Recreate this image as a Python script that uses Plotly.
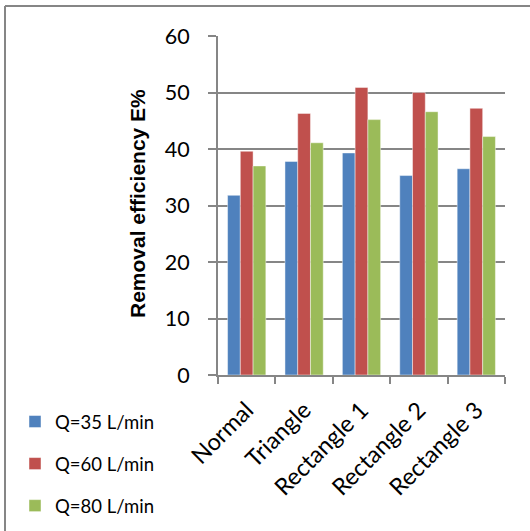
import plotly.graph_objects as go

# Channel shapes and removal efficiency (%) at three flow rates
categories = ["Normal", "Triangle", "Rectangle 1", "Rectangle 2", "Rectangle 3"]
q35 = [31.8, 37.8, 39.3, 35.3, 36.5]
q60 = [39.6, 46.3, 50.9, 50.0, 47.2]
q80 = [37.0, 41.1, 45.2, 46.6, 42.2]
series_names = ["Q=35 L/min", "Q=60 L/min", "Q=80 L/min"]
series_colors = ["#4F81BD", "#C0504D", "#9BBB59"]
y_ticks = [0, 10, 20, 30, 40, 50, 60]
y_title = "Removal efficiency E%"

W, H = 530, 531
L, R, T, B = 218, 25, 36, 156
PW, PH = W - L - R, H - T - B
GRID = "#868686"

fig = go.Figure()
for i, (name, vals, col) in enumerate(zip(series_names, [q35, q60, q80], series_colors)):
    fig.add_trace(go.Bar(
        x=categories, y=vals, name=name, legendgroup=f"g{i}",
        marker=dict(color=col, line=dict(color="rgba(255,255,255,0.45)", width=1)),
    ))


def px_to_paper_x(px):
    return (px - L) / PW


def px_to_paper_y(py):
    return (H - B - py) / PH


# chart frame: top and left edges
fig.add_shape(type="line", xref="paper", yref="paper",
              x0=px_to_paper_x(5), x1=px_to_paper_x(W + 5), y0=px_to_paper_y(6), y1=px_to_paper_y(6),
              line=dict(color=GRID, width=2))
fig.add_shape(type="line", xref="paper", yref="paper",
              x0=px_to_paper_x(5), x1=px_to_paper_x(5), y0=px_to_paper_y(6), y1=px_to_paper_y(H + 5),
              line=dict(color=GRID, width=2))

# vertical axis title
fig.add_annotation(
    text=f"<b>{y_title}</b>", xref="paper", yref="paper",
    x=px_to_paper_x(137), y=px_to_paper_y(204), xanchor="center", yanchor="middle",
    textangle=-90, showarrow=False,
    font=dict(family="Liberation Sans", size=21, color="black"),
)

fig.update_layout(
    width=W, height=H,
    margin=dict(l=L, r=R, t=T, b=B, autoexpand=False),
    paper_bgcolor="white", plot_bgcolor="white",
    barmode="group", bargap=1.5 / 4.5, bargroupgap=0,
    font=dict(family="Lato", color="black"),
    showlegend=True,
    legend=dict(
        xref="container", yref="container",
        x=(15 / W), y=(H - 403) / H, xanchor="left", yanchor="top",
        font=dict(family="Lato", size=18.5, color="black"),
        tracegroupgap=15, itemwidth=30, bgcolor="rgba(0,0,0,0)",
    ),
    xaxis=dict(
        type="category", tickangle=-45, tickfont=dict(family="Lato", size=23.5),
        showline=True, linecolor=GRID, linewidth=2,
        ticks="outside", tickson="boundaries", ticklen=7, tickcolor=GRID, tickwidth=2,
        ticklabelstandoff=10,
        showgrid=False,
    ),
    yaxis=dict(
        range=[0, 60], tickvals=y_ticks, tickfont=dict(family="Lato", size=21.5),
        showline=True, linecolor=GRID, linewidth=2,
        ticks="outside", ticklen=8, tickcolor=GRID, tickwidth=2, ticklabelstandoff=14,
        showgrid=True, gridcolor=GRID, gridwidth=2, zeroline=False,
    ),
)

fig.write_html("out.html")
